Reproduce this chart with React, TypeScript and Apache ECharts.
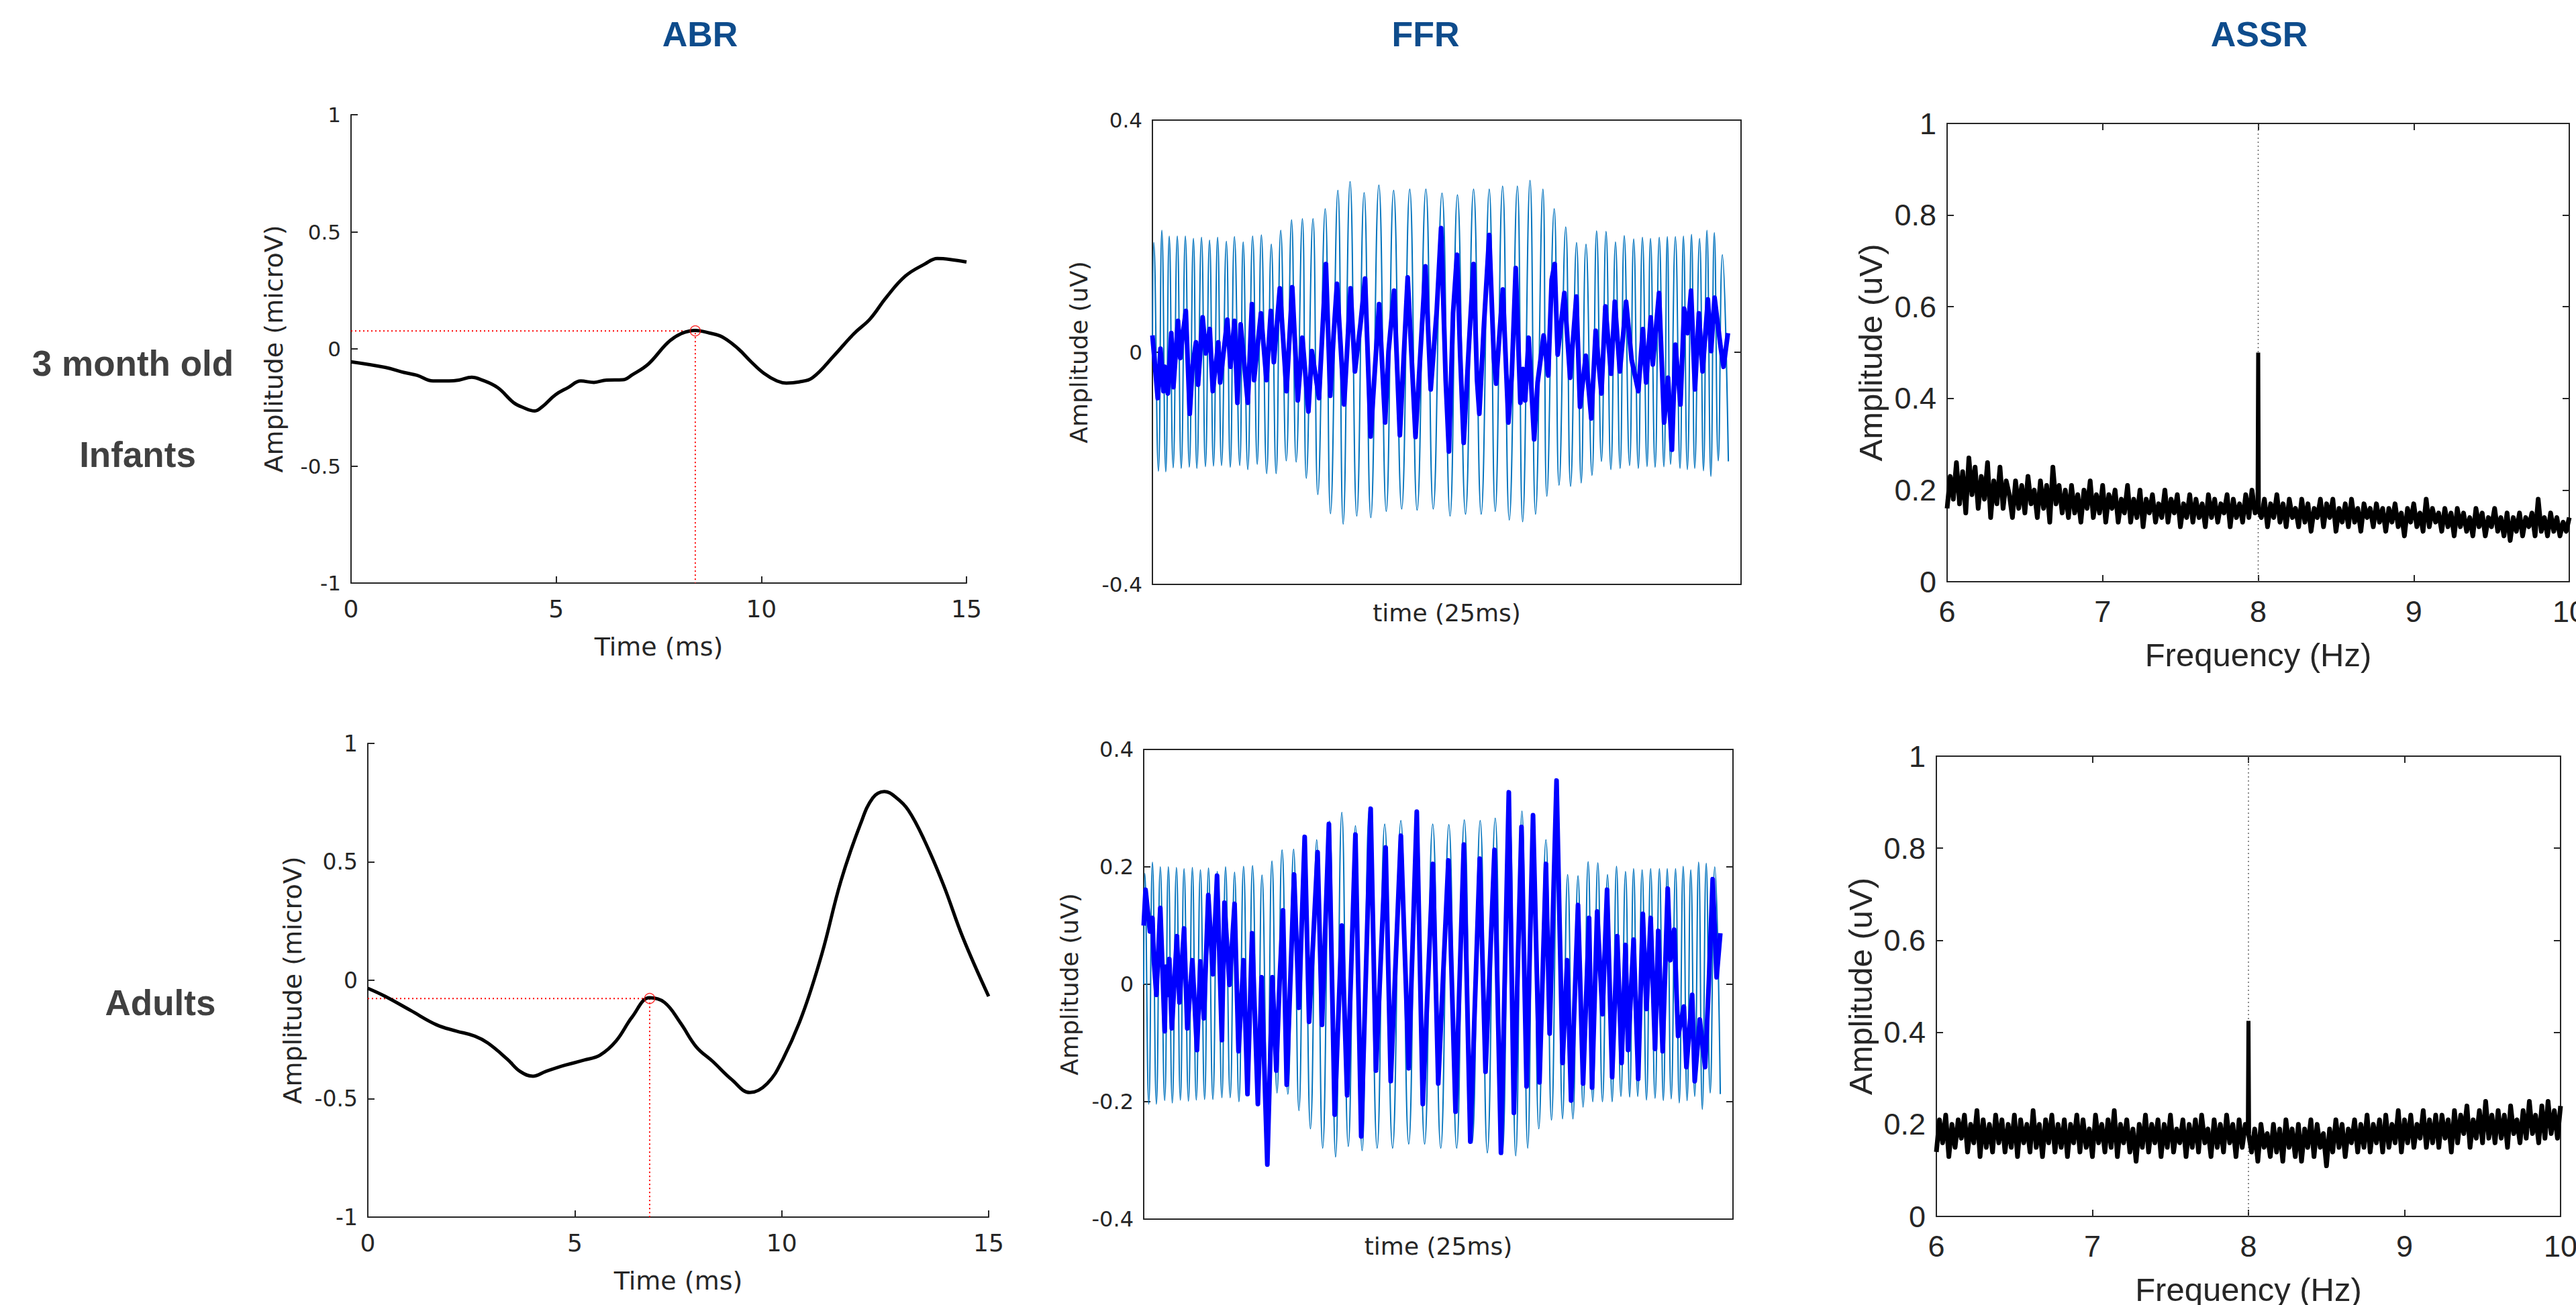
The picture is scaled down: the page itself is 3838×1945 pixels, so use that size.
import React, { useEffect, useRef } from "react";
import * as echarts from "echarts";

// ---------- text ----------
const columnTitles = ["ABR", "FFR", "ASSR"];
const infantLabels = ["3 month old", "Infants"];
const adultLabel = "Adults";

// ---------- ABR (time ms, amplitude microV) ----------
const abrInfTime = [0, 0.83, 1.3, 1.61, 2.0, 2.39, 2.63, 2.94, 3.18, 3.57, 3.96, 4.19, 4.48, 4.66, 4.98, 5.29, 5.6, 5.92, 6.23, 6.62, 6.86, 7.25, 7.72, 8.03, 8.39, 8.73, 9.05, 9.44, 9.75, 10.06, 10.38, 10.61, 10.92, 11.24, 11.78, 12.25, 12.65, 13.04, 13.51, 13.98, 14.29, 14.6, 15.0];
const abrInfAmp = [-0.055, -0.079, -0.101, -0.113, -0.137, -0.137, -0.133, -0.121, -0.132, -0.165, -0.229, -0.25, -0.265, -0.247, -0.196, -0.165, -0.137, -0.143, -0.133, -0.132, -0.11, -0.064, 0.027, 0.064, 0.079, 0.068, 0.051, 0, -0.055, -0.104, -0.137, -0.146, -0.141, -0.124, -0.027, 0.064, 0.128, 0.219, 0.311, 0.362, 0.386, 0.382, 0.371];
const abrInfPeak = [8.39, 0.077];

const abrAdTime = [0, 0.42, 1.04, 1.66, 2.13, 2.59, 2.9, 3.37, 3.68, 3.99, 4.3, 4.76, 5.23, 5.61, 6.0, 6.39, 6.81, 7.17, 7.55, 7.94, 8.33, 8.79, 9.23, 9.65, 10.03, 10.5, 10.97, 11.43, 11.9, 12.2, 12.48, 12.76, 13.06, 13.45, 13.91, 14.38, 15.0];
const abrAdAmp = [-0.034, -0.068, -0.128, -0.188, -0.214, -0.236, -0.265, -0.333, -0.385, -0.405, -0.385, -0.359, -0.337, -0.316, -0.256, -0.154, -0.074, -0.094, -0.179, -0.282, -0.342, -0.419, -0.474, -0.436, -0.333, -0.145, 0.111, 0.419, 0.658, 0.77, 0.797, 0.772, 0.718, 0.59, 0.402, 0.179, -0.068];
const abrAdPeak = [6.81, -0.077];

// ---------- FFR ([time ms, amplitude uV]) ----------
const ffrInfStimulus = [[0,0],[0.06,0.189],[0.26,-0.205],[0.41,0.21],[0.58,-0.206],[0.73,0.2],[0.9,-0.199],[1.08,0.2],[1.25,-0.2],[1.43,0.2],[1.6,-0.198],[1.78,0.196],[1.93,-0.2],[2.13,0.198],[2.3,-0.197],[2.48,0.193],[2.65,-0.196],[2.83,0.198],[3.0,-0.195],[3.21,0.191],[3.38,-0.198],[3.56,0.199],[3.79,-0.195],[3.94,0.19],[4.14,-0.202],[4.35,0.2],[4.55,-0.193],[4.73,0.202],[4.96,-0.209],[5.16,0.186],[5.37,-0.209],[5.57,0.21],[5.81,-0.187],[6.04,0.228],[6.24,-0.189],[6.51,0.23],[6.68,-0.217],[6.97,0.23],[7.18,-0.245],[7.5,0.247],[7.73,-0.278],[8.05,0.279],[8.28,-0.296],[8.58,0.294],[8.87,-0.282],[9.19,0.275],[9.48,-0.285],[9.83,0.288],[10.15,-0.274],[10.47,0.279],[10.82,-0.27],[11.17,0.281],[11.49,-0.272],[11.87,0.281],[12.19,-0.27],[12.57,0.274],[12.92,-0.282],[13.24,0.271],[13.59,-0.279],[13.94,0.281],[14.27,-0.279],[14.62,0.281],[14.88,-0.274],[15.2,0.286],[15.49,-0.289],[15.84,0.286],[16.07,-0.292],[16.39,0.296],[16.63,-0.279],[16.95,0.281],[17.12,-0.248],[17.44,0.247],[17.65,-0.229],[17.94,0.216],[18.15,-0.231],[18.41,0.189],[18.61,-0.225],[18.82,0.186],[19.08,-0.212],[19.28,0.209],[19.49,-0.188],[19.69,0.208],[19.9,-0.202],[20.1,0.19],[20.3,-0.2],[20.48,0.201],[20.71,-0.195],[20.89,0.195],[21.09,-0.2],[21.27,0.198],[21.47,-0.197],[21.62,0.196],[21.82,-0.198],[22.0,0.198],[22.2,-0.197],[22.35,0.199],[22.49,-0.193],[22.7,0.199],[22.9,-0.2],[23.05,0.2],[23.22,-0.202],[23.4,0.203],[23.54,-0.2],[23.75,0.196],[23.92,-0.204],[24.07,0.21],[24.24,-0.214],[24.39,0.206],[24.56,-0.187],[24.74,0.168],[25.0,-0.188]];

const ffrInfResponseT = [0, 0.23, 0.35, 0.48, 0.54, 0.67, 0.82, 0.91, 1.11, 1.21, 1.3, 1.45, 1.62, 1.74, 1.89, 1.98, 2.18, 2.32, 2.49, 2.62, 2.86, 2.94, 3.25, 3.39, 3.56, 3.69, 3.83, 4.14, 4.32, 4.41, 4.71, 4.95, 5.14, 5.27, 5.53, 5.82, 6.07, 6.31, 6.51, 6.77, 6.92, 7.23, 7.53, 7.72, 7.87, 8.01, 8.32, 8.6, 8.79, 9.03, 9.23, 9.47, 9.84, 10.1, 10.25, 10.49, 10.74, 11.08, 11.42, 11.85, 12.08, 12.34, 12.53, 12.73, 12.87, 13.05, 13.22, 13.36, 13.51, 13.75, 13.94, 14.09, 14.19, 14.38, 14.62, 14.82, 14.92, 15.06, 15.21, 15.45, 15.6, 15.77, 15.97, 16.08, 16.18, 16.33, 16.57, 16.72, 16.98, 17.18, 17.33, 17.46, 17.59, 17.88, 18.13, 18.4, 18.56, 18.81, 19.05, 19.24, 19.49, 19.66, 19.91, 20.07, 20.29, 20.56, 20.8, 21.09, 21.29, 21.43, 21.63, 21.72, 21.99, 22.21, 22.38, 22.55, 22.7, 22.92, 23.08, 23.23, 23.38, 23.55, 23.72, 23.88, 24.11, 24.25, 24.4, 24.66, 24.79, 24.98];
const ffrInfResponseV = [0.029, -0.079, 0.006, -0.067, -0.025, -0.071, 0.033, -0.06, 0.054, -0.01, 0.025, 0.071, -0.106, -0.025, 0.017, -0.056, 0.06, -0.002, 0.04, -0.067, 0.017, -0.052, 0.056, -0.025, 0.054, -0.087, 0.048, -0.087, 0.083, -0.048, 0.067, -0.048, 0.071, -0.017, 0.11, -0.067, 0.112, -0.083, 0.025, -0.102, 0.002, -0.079, 0.152, -0.075, 0.033, 0.118, -0.09, 0.11, -0.033, 0.048, 0.127, -0.145, 0.083, -0.121, 0.002, 0.106, -0.143, 0.129, -0.146, 0.148, -0.064, 0.071, 0.214, -0.048, -0.171, 0.067, 0.168, -0.006, -0.156, 0.021, 0.152, -0.048, -0.106, 0.04, 0.202, -0.01, -0.054, 0.029, 0.108, -0.121, -0.037, 0.145, -0.087, -0.029, -0.083, 0.025, -0.15, -0.052, 0.029, -0.04, 0.125, 0.152, -0.004, 0.102, -0.044, 0.096, -0.094, -0.006, -0.114, 0.037, -0.071, 0.079, -0.037, 0.087, -0.033, 0.087, -0.013, -0.067, 0.04, -0.052, 0.06, -0.021, 0.102, -0.121, -0.044, -0.168, 0.013, -0.09, 0.075, 0.033, 0.106, -0.064, 0.067, -0.033, 0.091, 0.002, 0.094, 0.01, -0.025, 0.033];

const ffrAdStimulus = [[0,0],[0.05,0.189],[0.22,-0.204],[0.38,0.208],[0.55,-0.204],[0.72,0.2],[0.91,-0.198],[1.07,0.2],[1.24,-0.202],[1.42,0.199],[1.59,-0.197],[1.75,0.197],[1.94,-0.199],[2.11,0.199],[2.28,-0.197],[2.46,0.195],[2.64,-0.196],[2.81,0.198],[3.0,-0.196],[3.19,0.192],[3.39,-0.193],[3.55,0.2],[3.75,-0.193],[3.94,0.191],[4.13,-0.2],[4.33,0.201],[4.53,-0.189],[4.72,0.202],[4.94,-0.193],[5.13,0.186],[5.36,-0.206],[5.56,0.21],[5.78,-0.185],[6.0,0.229],[6.25,-0.187],[6.5,0.23],[6.73,-0.215],[6.97,0.249],[7.23,-0.246],[7.5,0.246],[7.76,-0.279],[8.06,0.278],[8.32,-0.294],[8.59,0.293],[8.87,-0.276],[9.18,0.27],[9.47,-0.283],[9.78,0.299],[10.12,-0.279],[10.45,0.273],[10.79,-0.279],[11.15,0.279],[11.49,-0.272],[11.84,0.294],[12.18,-0.272],[12.53,0.273],[12.88,-0.279],[13.23,0.272],[13.57,-0.279],[13.9,0.28],[14.24,-0.27],[14.59,0.279],[14.9,-0.287],[15.24,0.283],[15.55,-0.29],[15.87,0.285],[16.13,-0.292],[16.4,0.295],[16.65,-0.279],[16.9,0.289],[17.13,-0.246],[17.44,0.246],[17.68,-0.231],[17.94,0.27],[18.16,-0.229],[18.38,0.187],[18.61,-0.229],[18.83,0.185],[19.05,-0.209],[19.27,0.209],[19.47,-0.2],[19.69,0.207],[19.89,-0.2],[20.11,0.187],[20.31,-0.2],[20.5,0.201],[20.69,-0.191],[20.89,0.192],[21.07,-0.192],[21.24,0.197],[21.42,-0.191],[21.61,0.195],[21.8,-0.197],[21.98,0.197],[22.17,-0.194],[22.36,0.197],[22.53,-0.198],[22.7,0.197],[22.87,-0.195],[23.06,0.197],[23.22,-0.202],[23.39,0.201],[23.56,-0.198],[23.72,0.195],[23.89,-0.191],[24.06,0.208],[24.22,-0.213],[24.39,0.206],[24.56,-0.185],[24.76,0.2],[25.0,-0.187]];

const ffrAdResponse = [[0,0.1],[0.08,0.161],[0.27,0.09],[0.38,0.113],[0.44,0.041],[0.55,-0.018],[0.72,0.13],[0.91,-0.08],[0.97,0.03],[1.05,-0.018],[1.11,0.043],[1.22,-0.075],[1.44,0.082],[1.55,-0.031],[1.75,0.095],[1.89,-0.075],[2.11,0.041],[2.31,-0.112],[2.46,0.039],[2.61,-0.058],[2.8,0.152],[3.0,0.017],[3.18,0.185],[3.39,-0.095],[3.5,0.139],[3.72,-0.001],[3.94,0.137],[4.11,-0.114],[4.33,0.041],[4.5,-0.187],[4.7,0.087],[4.95,-0.204],[5.11,0.012],[5.36,-0.307],[5.58,0.012],[5.75,-0.147],[5.89,0.004],[6.04,0.126],[6.2,-0.171],[6.52,0.187],[6.73,-0.04],[6.98,0.251],[7.17,-0.064],[7.54,0.225],[7.73,-0.069],[8.03,0.273],[8.28,-0.222],[8.59,0.1],[8.82,-0.189],[9.18,0.255],[9.43,-0.259],[9.84,0.299],[10.07,-0.147],[10.49,0.233],[10.71,-0.165],[11.15,0.253],[11.49,-0.143],[11.84,0.294],[12.1,-0.204],[12.54,0.205],[12.77,-0.169],[13.21,0.211],[13.52,-0.217],[13.88,0.238],[14.16,-0.268],[14.57,0.214],[14.82,-0.149],[15.21,0.229],[15.49,-0.287],[15.83,0.327],[16.05,-0.219],[16.38,0.268],[16.6,-0.174],[16.88,0.288],[17.16,-0.167],[17.44,0.205],[17.6,-0.084],[17.9,0.347],[18.16,-0.134],[18.36,0.041],[18.53,-0.198],[18.83,0.135],[19.05,-0.169],[19.31,0.113],[19.44,-0.176],[19.66,0.124],[19.89,-0.051],[20.09,0.161],[20.31,-0.158],[20.53,0.082],[20.72,-0.134],[20.89,0.067],[21.0,-0.112],[21.24,0.076],[21.44,-0.161],[21.64,0.12],[21.8,-0.042],[21.98,0.113],[22.17,-0.11],[22.31,0.091],[22.5,-0.114],[22.72,0.163],[22.83,0.041],[23.0,0.093],[23.17,-0.088],[23.42,-0.038],[23.53,-0.141],[23.78,-0.018],[23.89,-0.165],[24.11,-0.06],[24.34,-0.141],[24.5,0.0],[24.67,0.179],[24.84,0.012],[25.0,0.087]];

// ---------- ASSR (amplitude in hundredths of uV, 6..10 Hz every 0.02 Hz) ----------
const assrFreqStart = 6;
const assrFreqStep = 0.02;
const assrTargetFreq = 8;
const assrInfNoise = `
16 23 18 26 17 24 15 27 19 25 16 23 18 26 14 22 17 25 16 22
19 14 22 16 21 15 23 17 20 14 22 16 21 13 25 17 21 15 20 14
21 15 19 13 20 16 22 14 19 15 21 13 19 16 20 13 18 15 21 13
18 14 20 12 18 15 19 13 17 14 20 13 18 15 19 12 17 14 19 13
18 14 17 12 19 14 18 13 17 15 19 12 18 14 17 13 19 14 20 15
16
14 18 12 17 14 19 13 17 12 18 14 16 12 18 13 17 11 16 14 18
12 17 14 18 11 16 13 17 12 18 13 16 11 17 14 16 12 17 13 16
11 16 13 17 12 15 10 16 13 17 12 15 11 18 12 16 13 15 11 16
12 15 10 16 12 15 11 14 10 16 12 15 10 14 12 16 11 14 10 15
09 14 11 15 10 14 12 15 10 18 11 14 10 15 11 14 10 13 11 14`;
const assrInfPeak = 0.5;
const assrAdNoise = `
14 21 16 22 13 20 15 21 17 22 14 20 16 23 13 21 15 20 14 22
16 21 14 20 15 22 13 21 16 20 14 23 15 20 13 21 16 22 14 20
15 21 13 20 16 22 14 21 15 19 13 22 16 20 14 21 15 23 13 20
16 21 14 19 12 20 15 22 14 20 16 21 13 20 15 22 14 19 16 21
13 20 15 21 14 22 16 19 13 21 15 20 14 22 16 20 13 21 15 20
18
14 19 12 20 15 18 13 20 14 19 12 21 15 19 13 20 12 19 15 21
13 20 15 18 11 19 14 21 15 20 13 19 16 21 14 20 15 22 14 20
16 21 14 22 15 20 16 23 14 21 16 22 15 20 17 23 15 21 16 22
15 22 17 21 14 23 16 22 18 24 15 21 17 23 16 25 17 22 16 23
17 22 15 24 18 21 16 23 17 25 18 22 16 24 17 25 18 23 17 24`;
const assrAdPeak = 0.425;

// ---------- helpers ----------
const zip = (xs: number[], ys: number[]) => xs.slice(0, Math.min(xs.length, ys.length)).map((x, i) => [x, ys[i]]);
const parseHundredths = (s: string) => s.trim().split(/\s+/).map((v) => Number(v) / 100);
const assrSeries = (s: string) => parseHundredths(s).map((v, i) => [+(assrFreqStart + i * assrFreqStep).toFixed(3), v]);

const DV = '"DejaVu Sans", sans-serif';
const LS = '"Liberation Sans", Arial, sans-serif';
const AX = "#262626";
const TITLE = "#0E4C8C";
const axLine = { color: AX, width: 2 };

function buildOption() {
  const grids = [
    { left: 523, top: 171, width: 917, height: 698 },
    { left: 1717, top: 179, width: 877, height: 692 },
    { left: 2901, top: 184, width: 927, height: 683 },
    { left: 548, top: 1108, width: 925, height: 706 },
    { left: 1704, top: 1117, width: 878, height: 700 },
    { left: 2885, top: 1127, width: 930, height: 686 },
  ].map((g) => ({ ...g, containLabel: false, outerBoundsMode: "none" }));

  const base = (gridIndex: number, min: number, max: number, interval: number) => ({
    type: "value",
    gridIndex,
    min,
    max,
    interval,
    splitLine: { show: false },
    axisLine: { show: true, onZero: false, lineStyle: axLine },
    axisTick: { show: true, inside: true, length: 10, lineStyle: axLine },
  });
  const lbl = (family: string, size: number, margin: number) => ({ fontFamily: family, fontSize: size, color: AX, margin });
  const nm = (name: string, gap: number, family: string, size: number, rotate = false) => ({
    name,
    nameLocation: "middle",
    nameGap: gap,
    nameRotate: rotate ? 90 : 0,
    nameTextStyle: { fontFamily: family, fontSize: size, color: AX },
  });
  const hiddenTicks = { axisTick: { show: false }, axisLabel: { show: false } };

  const xAxis: any[] = [
    { ...base(0, 0, 15, 5), axisLabel: lbl(DV, 36, 20), ...nm("Time (ms)", 76, DV, 38) },
    { ...base(1, 0, 25.55, 5), ...hiddenTicks, ...nm("time (25ms)", 24, DV, 36) },
    { ...base(2, 6, 10, 1), axisLabel: lbl(LS, 45, 22), ...nm("Frequency (Hz)", 84, LS, 49) },
    { ...base(3, 0, 15, 5), axisLabel: lbl(DV, 36, 20), ...nm("Time (ms)", 76, DV, 38) },
    { ...base(4, 0, 25.55, 5), ...hiddenTicks, ...nm("time (25ms)", 22, DV, 36) },
    { ...base(5, 6, 10, 1), axisLabel: lbl(LS, 45, 22), ...nm("Frequency (Hz)", 84, LS, 49) },
    // box tops
    { ...base(1, 0, 25.55, 5), position: "top", ...hiddenTicks },
    { ...base(2, 6, 10, 1), position: "top", axisLabel: { show: false } },
    { ...base(4, 0, 25.55, 5), position: "top", ...hiddenTicks },
    { ...base(5, 6, 10, 1), position: "top", axisLabel: { show: false } },
  ];
  const yAxis: any[] = [
    { ...base(0, -1, 1, 0.5), axisLabel: lbl(DV, 31, 15), ...nm("Amplitude (microV)", 96, DV, 38, true) },
    { ...base(1, -0.4, 0.4, 0.4), axisLabel: lbl(DV, 31, 15), ...nm("Amplitude (uV)", 92, DV, 36, true) },
    { ...base(2, 0, 1, 0.2), axisLabel: lbl(LS, 45, 16), ...nm("Amplitude (uV)", 90, LS, 49, true) },
    { ...base(3, -1, 1, 0.5), axisLabel: lbl(DV, 33, 15), ...nm("Amplitude (microV)", 93, DV, 38, true) },
    { ...base(4, -0.4, 0.4, 0.2), axisLabel: lbl(DV, 32, 15), ...nm("Amplitude (uV)", 93, DV, 36, true) },
    { ...base(5, 0, 1, 0.2), axisLabel: lbl(LS, 45, 16), ...nm("Amplitude (uV)", 89, LS, 49, true) },
    // box right sides
    { ...base(1, -0.4, 0.4, 0.4), position: "right", axisLabel: { show: false } },
    { ...base(2, 0, 1, 0.2), position: "right", axisLabel: { show: false } },
    { ...base(4, -0.4, 0.4, 0.2), position: "right", axisLabel: { show: false } },
    { ...base(5, 0, 1, 0.2), position: "right", axisLabel: { show: false } },
  ];

  const line = (i: number, data: any[], color: string, width: number, extra: any = {}) => ({
    type: "line",
    xAxisIndex: i,
    yAxisIndex: i,
    data,
    symbol: "none",
    showSymbol: false,
    silent: true,
    lineStyle: { color, width, ...(extra.lineStyle || {}) },
    itemStyle: { color },
    ...Object.fromEntries(Object.entries(extra).filter(([k]) => k !== "lineStyle")),
  });

  const abrGuide = (i: number, peak: number[]) => [
    line(i, [[0, peak[1]], [peak[0], peak[1]], [peak[0], -1]], "#ff0000", 2, { lineStyle: { type: [2, 4] } }),
    {
      type: "scatter",
      xAxisIndex: i,
      yAxisIndex: i,
      data: [peak],
      symbol: "circle",
      symbolSize: 15,
      silent: true,
      z: 5,
      itemStyle: { color: "rgba(0,0,0,0)", borderColor: "#ff0000", borderWidth: 1.5 },
    },
  ];

  const assrParts = (i: number, noise: string, peak: number) => {
    const pts = assrSeries(noise);
    const idx = Math.round((assrTargetFreq - assrFreqStart) / assrFreqStep);
    const b = pts[idx][1];
    return [
      line(i, [[assrTargetFreq, 0], [assrTargetFreq, 1]], "#666666", 1.5, { lineStyle: { type: [2, 4] } }),
      line(i, pts, "#000000", 7, { lineStyle: { join: "round" } }),
      line(i, [[assrTargetFreq - 0.004, b], [assrTargetFreq, peak], [assrTargetFreq + 0.004, b]], "#000000", 6),
    ];
  };

  const series: any[] = [
    ...abrGuide(0, abrInfPeak),
    line(0, zip(abrInfTime, abrInfAmp), "#000000", 5, { smooth: 0.4 }),
    line(1, ffrInfStimulus, "#0072BD", 2, { smooth: 0.5 }),
    line(1, zip(ffrInfResponseT, ffrInfResponseV), "#0000FF", 7, { lineStyle: { join: "round" } }),
    ...assrParts(2, assrInfNoise, assrInfPeak),
    ...abrGuide(3, abrAdPeak),
    line(3, zip(abrAdTime, abrAdAmp), "#000000", 5, { smooth: 0.4 }),
    line(4, ffrAdStimulus, "#0072BD", 2, { smooth: 0.5 }),
    line(4, ffrAdResponse, "#0000FF", 7, { lineStyle: { join: "round" } }),
    ...assrParts(5, assrAdNoise, assrAdPeak),
  ];

  const txt = (text: string, x: number, y: number, size: number, color: string) => ({
    type: "text",
    x,
    y,
    silent: true,
    style: { text, fill: color, fontSize: size, fontWeight: "bold", fontFamily: LS, align: "center", verticalAlign: "middle" },
  });
  const titleX = [1043, 2124, 3366];
  const graphic = [
    ...columnTitles.map((t, i) => txt(t, titleX[i], 51, 52, TITLE)),
    txt(infantLabels[0], 198, 541, 53, "#404040"),
    txt(infantLabels[1], 205, 677, 53, "#404040"),
    txt(adultLabel, 239, 1494, 53, "#404040"),
  ];

  return { animation: false, backgroundColor: "#ffffff", grid: grids, xAxis, yAxis, series, graphic };
}

export default function App() {
  const ref = useRef<HTMLDivElement>(null);
  useEffect(() => {
    document.body.style.margin = "0";
    const chart = echarts.init(ref.current as HTMLDivElement, null, { renderer: "svg" });
    chart.setOption(buildOption() as any);
    return () => chart.dispose();
  }, []);
  return <div ref={ref} style={{ width: 3838, height: 1945, background: "#ffffff" }} />;
}
